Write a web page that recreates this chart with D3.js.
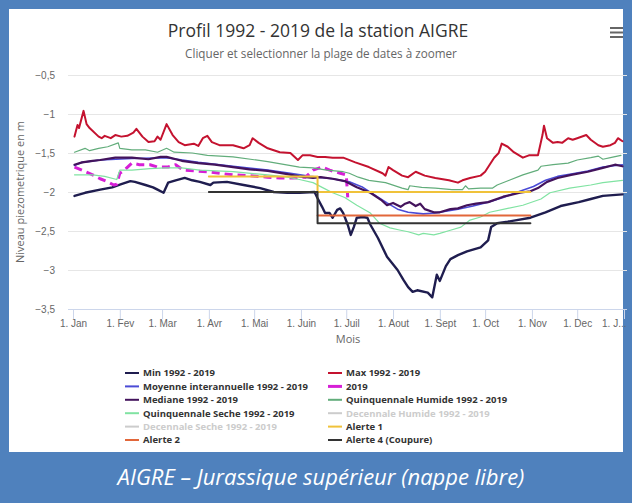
<!DOCTYPE html>
<html>
<head>
<meta charset="utf-8">
<script src="https://cdn.jsdelivr.net/npm/d3@7"></script>
<style>
body{margin:0;background:#fff;}
svg{display:block;font-family:"Open Sans",sans-serif;}
</style>
</head>
<body>
<div class="chart"></div>
<script>
// months of the x axis
var monthLabels = ["1. Jan","1. Fev","1. Mar","1. Avr","1. Mai","1. Juin","1. Juil","1. Aout","1. Sept","1. Oct","1. Nov","1. Dec","1. J..."];
var yTicks = [-0.5,-1,-1.5,-2,-2.5,-3,-3.5];

// [day of year, level in m]
var minSeries = [[1,-2.05],[8,-2.01],[18,-1.97],[26,-1.94],[32,-1.90],[38,-1.86],[41,-1.87],[48,-1.91],[53,-1.94],[56,-1.97],[60,-2.01],[63,-1.88],[68,-1.85],[74,-1.82],[79,-1.85],[84,-1.87],[91,-1.91],[93,-1.88],[102,-1.87],[113,-1.91],[124,-1.95],[133,-2.0],[142,-2.01],[150,-2.01],[160,-2.0],[162,-2.08],[165,-2.19],[167,-2.27],[170,-2.27],[172,-2.33],[175,-2.23],[177,-2.21],[179,-2.27],[182,-2.42],[184,-2.55],[186,-2.45],[188,-2.33],[192,-2.32],[195,-2.33],[197,-2.42],[202,-2.59],[208,-2.83],[215,-3.0],[219,-3.13],[222,-3.22],[225,-3.28],[228,-3.26],[235,-3.29],[238,-3.35],[241,-3.06],[243,-3.14],[247,-2.95],[250,-2.86],[255,-2.81],[261,-2.76],[270,-2.71],[275,-2.62],[277,-2.45],[281,-2.40],[288,-2.38],[294,-2.36],[303,-2.33],[313,-2.26],[323,-2.18],[335,-2.13],[343,-2.09],[351,-2.05],[364,-2.03]];
var maxSeries = [[1,-1.29],[3,-1.14],[4,-1.18],[7,-0.96],[9,-1.13],[11,-1.18],[17,-1.29],[19,-1.31],[21,-1.28],[25,-1.31],[28,-1.27],[32,-1.29],[36,-1.28],[40,-1.24],[42,-1.19],[46,-1.29],[50,-1.36],[54,-1.35],[56,-1.29],[58,-1.33],[62,-1.13],[66,-1.27],[70,-1.36],[74,-1.40],[80,-1.38],[83,-1.41],[86,-1.31],[89,-1.28],[92,-1.36],[97,-1.40],[106,-1.40],[113,-1.44],[117,-1.40],[119,-1.31],[123,-1.37],[129,-1.44],[137,-1.49],[144,-1.50],[149,-1.59],[152,-1.53],[157,-1.53],[162,-1.55],[167,-1.55],[172,-1.56],[179,-1.56],[187,-1.62],[196,-1.68],[205,-1.76],[207,-1.79],[209,-1.68],[212,-1.72],[218,-1.79],[222,-1.81],[227,-1.74],[233,-1.79],[240,-1.82],[249,-1.85],[255,-1.88],[258,-1.85],[263,-1.82],[270,-1.79],[273,-1.74],[279,-1.56],[282,-1.50],[284,-1.38],[288,-1.42],[292,-1.49],[298,-1.56],[302,-1.53],[308,-1.53],[311,-1.27],[312,-1.15],[314,-1.31],[318,-1.37],[321,-1.36],[324,-1.37],[328,-1.31],[331,-1.33],[334,-1.31],[340,-1.27],[343,-1.33],[348,-1.40],[351,-1.42],[356,-1.40],[359,-1.37],[361,-1.31],[364,-1.35]];
var moyenneSeries = [[1,-1.66],[6,-1.62],[18,-1.59],[39,-1.57],[62,-1.56],[83,-1.62],[106,-1.67],[129,-1.72],[144,-1.76],[157,-1.80],[172,-1.83],[183,-1.87],[192,-1.94],[200,-2.04],[208,-2.14],[215,-2.22],[222,-2.26],[232,-2.28],[240,-2.27],[255,-2.22],[265,-2.18],[275,-2.13],[285,-2.07],[296,-1.99],[305,-1.93],[313,-1.85],[321,-1.80],[330,-1.77],[341,-1.73],[351,-1.68],[364,-1.65]];
var serie2019 = [[1,-1.68],[6,-1.72],[13,-1.78],[18,-1.83],[23,-1.87],[27,-1.91],[29,-1.90],[31,-1.76],[34,-1.72],[39,-1.63],[44,-1.65],[51,-1.65],[56,-1.68],[63,-1.68],[68,-1.65],[73,-1.72],[81,-1.73],[89,-1.74],[97,-1.76],[106,-1.78],[117,-1.79],[129,-1.81],[137,-1.82],[146,-1.82],[154,-1.81],[159,-1.72],[165,-1.68],[170,-1.72],[177,-1.76],[181,-1.78],[182,-2.07]];
var medianeSeries = [[1,-1.65],[6,-1.62],[13,-1.60],[18,-1.59],[28,-1.56],[39,-1.56],[50,-1.58],[58,-1.55],[62,-1.55],[72,-1.60],[83,-1.63],[94,-1.65],[106,-1.68],[117,-1.71],[129,-1.73],[142,-1.77],[150,-1.80],[159,-1.82],[164,-1.81],[172,-1.83],[180,-1.86],[188,-1.94],[197,-2.01],[204,-2.10],[208,-2.17],[212,-2.14],[217,-2.19],[220,-2.15],[223,-2.13],[227,-2.18],[230,-2.15],[233,-2.22],[239,-2.26],[243,-2.26],[250,-2.22],[255,-2.21],[261,-2.17],[267,-2.15],[275,-2.13],[285,-2.06],[296,-2.01],[303,-1.99],[308,-1.95],[314,-1.87],[321,-1.82],[330,-1.78],[341,-1.74],[351,-1.69],[359,-1.65],[364,-1.67]];
var quinqHumide = [[1,-1.49],[8,-1.44],[11,-1.47],[17,-1.44],[23,-1.42],[30,-1.37],[31,-1.44],[39,-1.46],[48,-1.46],[56,-1.49],[62,-1.44],[67,-1.49],[79,-1.50],[89,-1.53],[106,-1.55],[129,-1.61],[150,-1.68],[159,-1.69],[168,-1.72],[179,-1.74],[183,-1.76],[189,-1.81],[196,-1.85],[207,-1.88],[218,-1.95],[222,-1.97],[223,-1.92],[231,-1.94],[240,-1.95],[251,-1.97],[258,-1.97],[260,-1.92],[262,-1.96],[270,-1.95],[278,-1.95],[281,-1.91],[289,-1.85],[298,-1.78],[308,-1.72],[310,-1.67],[318,-1.65],[328,-1.63],[334,-1.59],[343,-1.56],[348,-1.54],[351,-1.58],[356,-1.56],[363,-1.53]];
var quinqSeche = [[1,-1.78],[13,-1.78],[21,-1.80],[29,-1.84],[31,-1.72],[39,-1.72],[51,-1.70],[61,-1.69],[72,-1.69],[84,-1.72],[106,-1.74],[129,-1.78],[142,-1.81],[150,-1.84],[159,-1.88],[166,-1.95],[172,-2.01],[180,-2.07],[188,-2.17],[197,-2.27],[203,-2.40],[210,-2.46],[217,-2.49],[222,-2.51],[229,-2.55],[232,-2.53],[239,-2.55],[243,-2.53],[250,-2.49],[257,-2.45],[263,-2.36],[270,-2.32],[276,-2.26],[288,-2.21],[298,-2.17],[310,-2.09],[316,-2.01],[329,-1.95],[343,-1.91],[351,-1.88],[364,-1.85]];
var alerte1 = [[90,-1.8],[162,-1.8],[162,-2.0],[303,-2.0]];
var alerte2 = [[162,-2.3],[303,-2.3]];
var alerte4 = [[90,-2.0],[162,-2.0],[162,-2.4],[303,-2.4]];

var seriesNames = ["Min 1992 - 2019","Max 1992 - 2019","Moyenne interannuelle 1992 - 2019","2019","Mediane 1992 - 2019","Quinquennale Humide 1992 - 2019","Quinquennale Seche 1992 - 2019","Decennale Humide 1992 - 2019","Decennale Seche 1992 - 2019","Alerte 1","Alerte 2","Alerte 4 (Coupure)"];
var seriesData = [minSeries, maxSeries, moyenneSeries, serie2019, medianeSeries, quinqHumide, quinqSeche, null, null, alerte1, alerte2, alerte4];

// styles, same order as seriesNames
var styles = [
  {color:"#1f1d4f", w:2.4},
  {color:"#c4122f", w:2},
  {color:"#4b4bd6", w:1.6},
  {color:"#d61fd6", w:3, dash:"8,5"},
  {color:"#43135c", w:2.2},
  {color:"#62ad7b", w:1.2},
  {color:"#80e3a2", w:1.2},
  {color:"#cccccc", w:1, hidden:true},
  {color:"#cccccc", w:1, hidden:true},
  {color:"#f0c23a", w:2},
  {color:"#e2673a", w:2},
  {color:"#333333", w:2}
];

var width = 632, height = 503;
var plotLeft = 68, plotRight = 627, plotTop = 75, plotBottom = 309;
var start = new Date(2019, 0, 1);

var svg = d3.select(".chart").append("svg")
    .attr("width", width)
    .attr("height", height);

// blue frame + white panel
svg.append("rect").attr("width", width).attr("height", height).attr("fill", "#4f81bd");
svg.append("rect").attr("x", 9).attr("y", 9).attr("width", 614).attr("height", 443).attr("fill", "#fff");

var x = d3.scaleTime()
    .domain([start, new Date(2020, 0, 1)])
    .range([73, 624]);
var y = d3.scaleLinear()
    .domain([-3.5, -0.5])
    .range([plotBottom, plotTop]);

function dayToDate(d){ return d3.timeDay.offset(start, d); }

// y axis + grid
var yAxis = d3.axisLeft(y)
    .tickValues(yTicks)
    .tickSize(-(plotRight - plotLeft))
    .tickPadding(13)
    .tickFormat(function(d){ return d3.format(".1~f")(d).replace(".", ",").replace("-", "\u2212"); });

var gy = svg.append("g")
    .attr("transform", "translate(" + plotLeft + ",0)")
    .call(yAxis);
gy.select(".domain").remove();
gy.selectAll("line").attr("stroke", "#e6e6e6");
gy.selectAll("text").attr("fill", "#666").style("font-size", "10px");

// x axis
var monthTicks = d3.range(13).map(function(m){ return new Date(2019, m, 1); });
var xAxis = d3.axisBottom(x)
    .tickValues(monthTicks)
    .tickSize(10)
    .tickPadding(1)
    .tickFormat(function(d, i){ return monthLabels[i]; });

var gx = svg.append("g")
    .attr("transform", "translate(0," + plotBottom + ")")
    .call(xAxis);
gx.select(".domain").attr("d", "M" + plotLeft + ",0.5H" + plotRight).attr("stroke", "#ccd6eb");
gx.selectAll("line").attr("stroke", "#ccd6eb");
gx.selectAll("text").attr("fill", "#666").style("font-size", "10px");
gx.selectAll("text").filter(function(d, i){ return i === 12; })
    .attr("text-anchor", "end").attr("x", 2);

// axis titles
svg.append("text")
    .attr("transform", "translate(24,192) rotate(-90)")
    .attr("text-anchor", "middle")
    .attr("fill", "#666")
    .style("font-size", "11px")
    .text("Niveau piezometrique en m");

svg.append("text")
    .attr("x", 348).attr("y", 343)
    .attr("text-anchor", "middle")
    .attr("fill", "#666")
    .style("font-size", "11px")
    .text("Mois");

// series
var line = d3.line()
    .x(function(d){ return x(dayToDate(d[0])); })
    .y(function(d){ return y(d[1]); });

var lines = svg.append("g").attr("fill", "none");
seriesData.forEach(function(data, i){
  if (!data) return;
  var s = styles[i];
  lines.append("path")
      .attr("d", line(data))
      .attr("stroke", s.color)
      .attr("stroke-width", s.w)
      .attr("stroke-dasharray", s.dash || null)
      .attr("stroke-linejoin", "round")
      .attr("stroke-linecap", s.dash ? "butt" : "round");
});

// title
svg.append("text")
    .attr("x", 318).attr("y", 37)
    .attr("text-anchor", "middle")
    .attr("fill", "#333")
    .style("font-size", "17.5px")
    .text("Profil 1992 - 2019 de la station AIGRE");
svg.append("text")
    .attr("x", 321).attr("y", 58)
    .attr("text-anchor", "middle")
    .attr("fill", "#666")
    .style("font-size", "11.7px")
    .text("Cliquer et selectionner la plage de dates \u00e0 zoomer");

// menu icon
[28, 32.5, 37].forEach(function(yy){
  svg.append("line")
      .attr("x1", 610).attr("x2", 623)
      .attr("y1", yy).attr("y2", yy)
      .attr("stroke", "#666").attr("stroke-width", 2);
});

// legend
var legend = svg.append("g");
seriesNames.forEach(function(name, i){
  var col = i % 2, row = Math.floor(i / 2);
  var lx = col === 0 ? 125 : 328;
  var ly = 373 + row * 13.4;
  var s = styles[i];
  var item = legend.append("g").attr("transform", "translate(" + lx + "," + ly + ")");
  item.append("line")
      .attr("x1", 0).attr("x2", 14)
      .attr("stroke", s.color)
      .attr("stroke-width", i === 3 ? 3 : 2);
  item.append("text")
      .attr("x", 18).attr("dy", "0.35em")
      .attr("fill", s.hidden ? "#cccccc" : "#333")
      .style("font-size", "9.5px")
      .style("font-weight", "bold")
      .text(name);
});

// caption
svg.append("text")
    .attr("x", 321).attr("y", 485)
    .attr("text-anchor", "middle")
    .attr("fill", "#fff")
    .style("font-size", "22px")
    .style("font-style", "italic")
    .text("AIGRE \u2013 Jurassique sup\u00e9rieur (nappe libre)");
</script>
</body>
</html>
